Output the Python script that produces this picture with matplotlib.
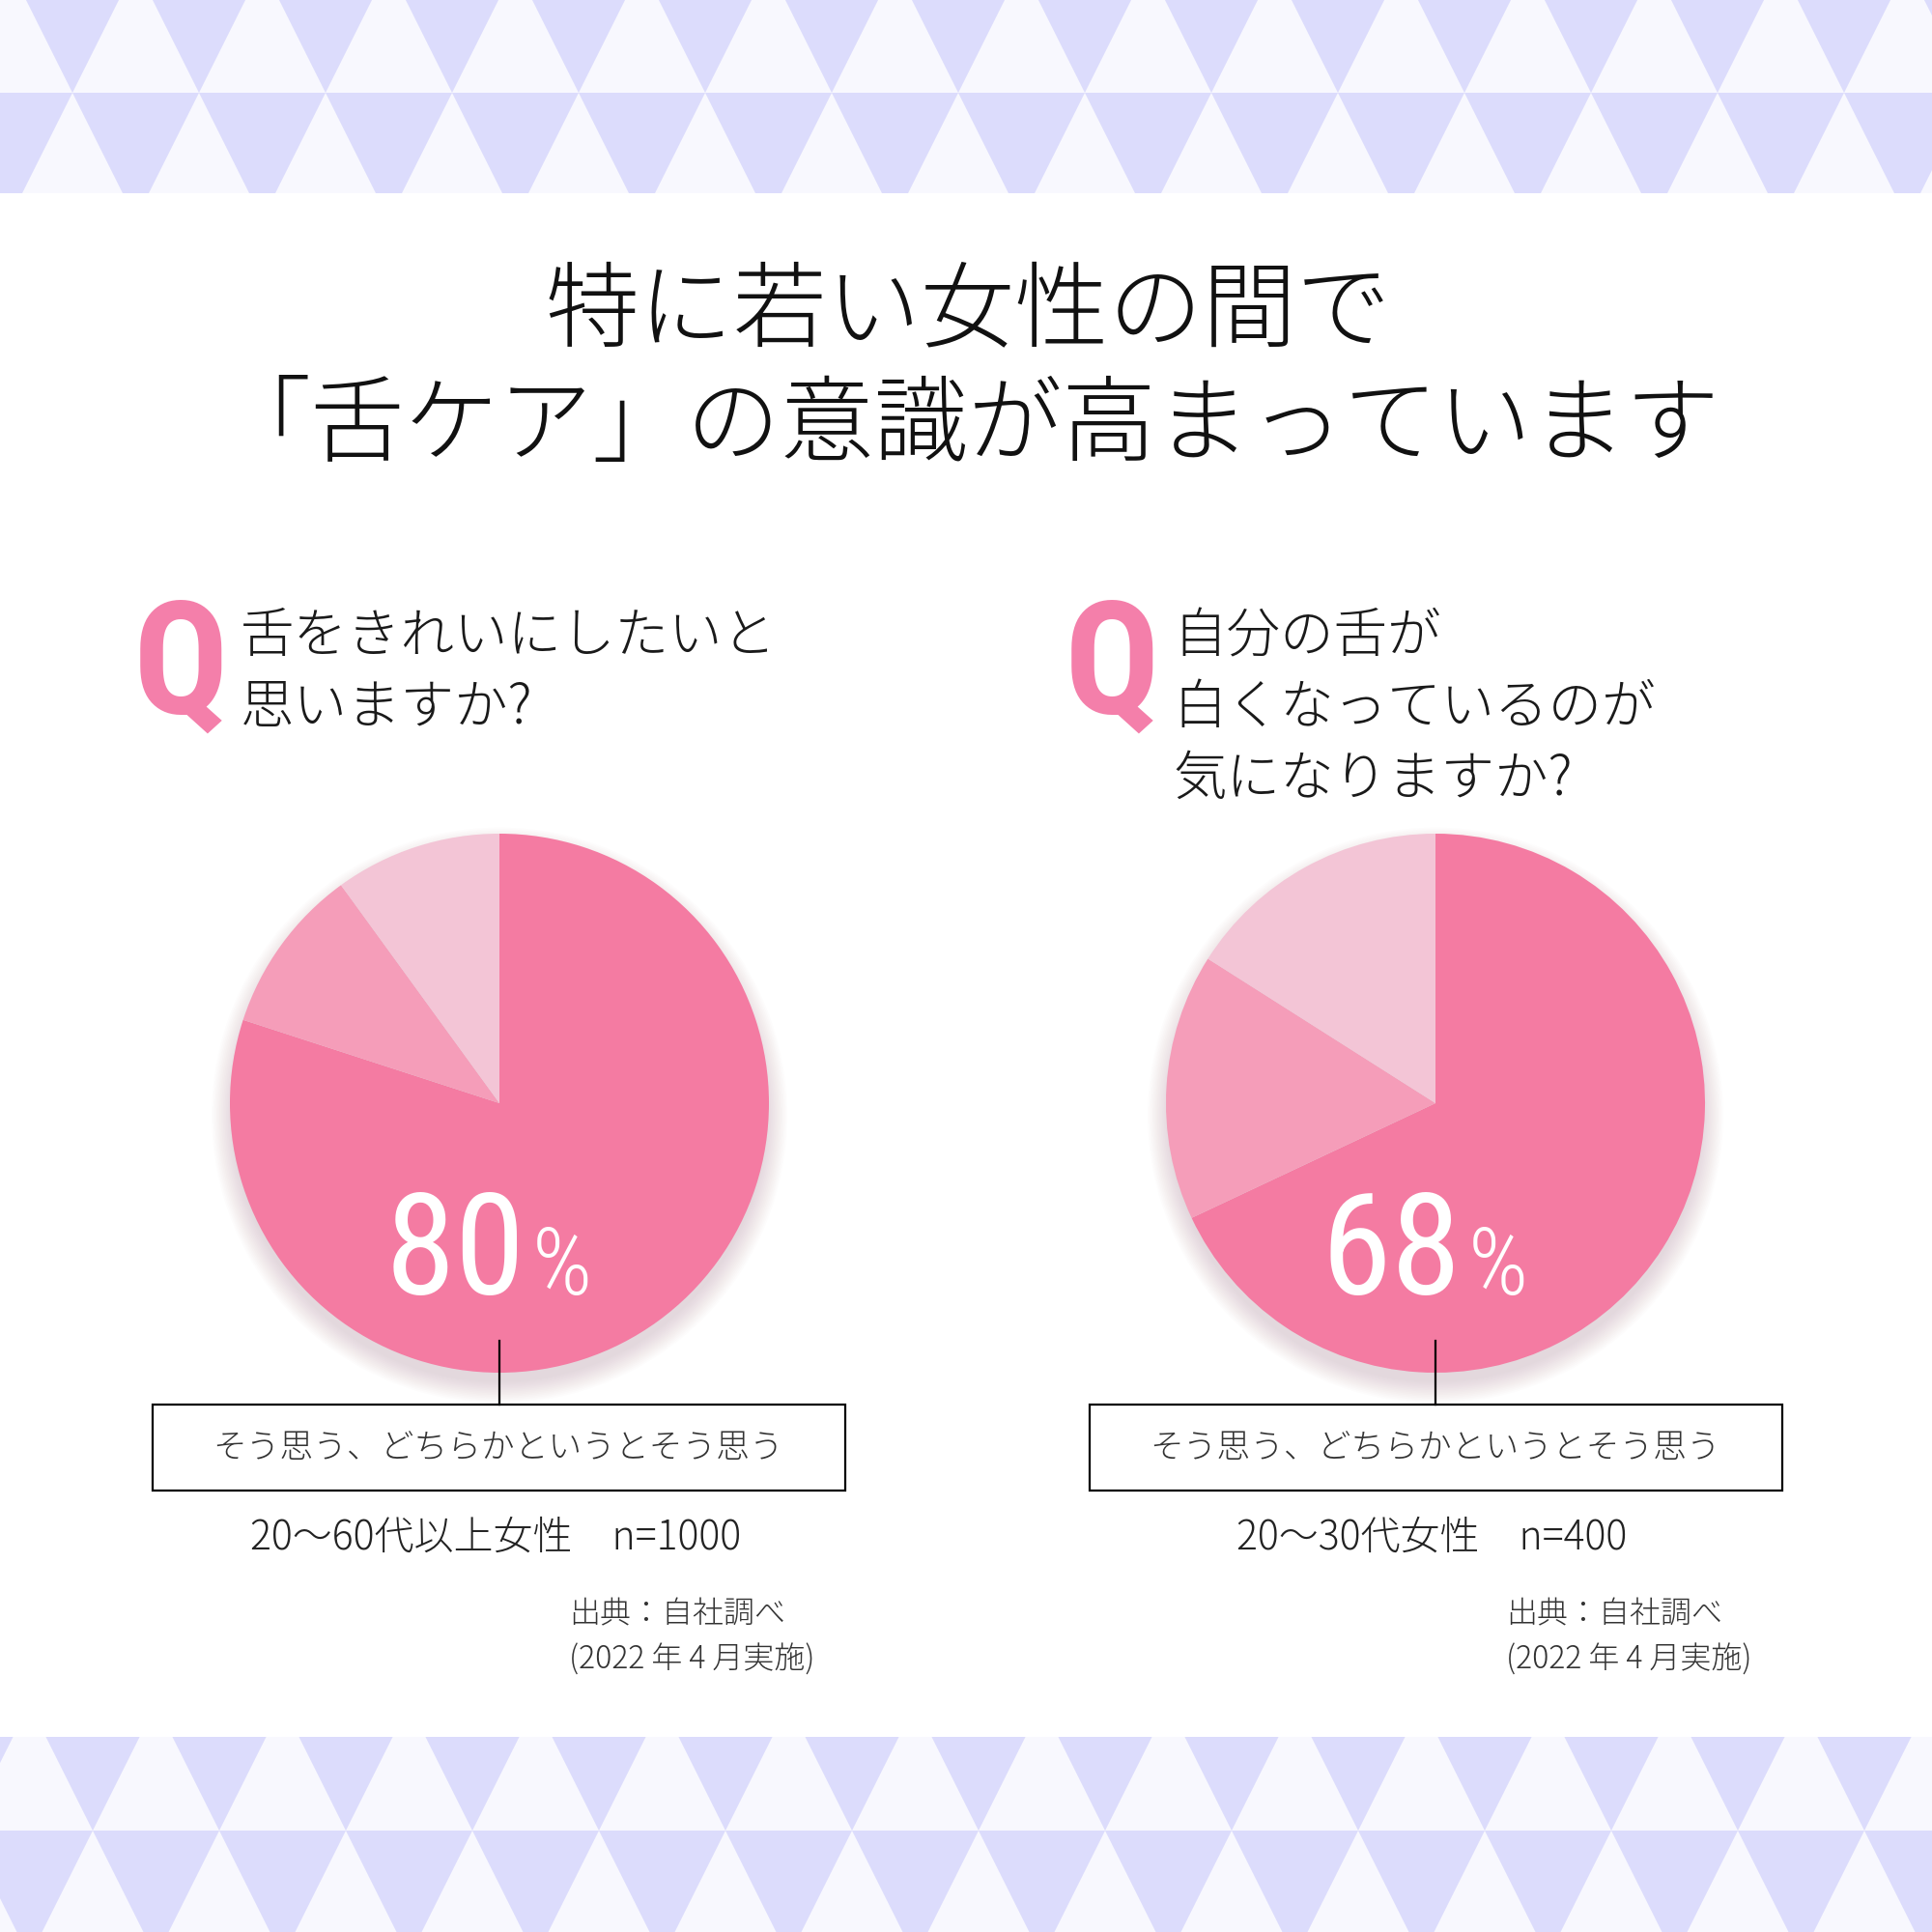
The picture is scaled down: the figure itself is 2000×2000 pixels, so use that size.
import matplotlib.pyplot as plt
from matplotlib.patches import Polygon, Circle, Rectangle

JP = ['Noto Sans CJK JP', 'DejaVu Sans']
NARROW = ['Roboto Condensed', 'Open Sans Condensed', 'Liberation Sans Narrow', 'DejaVu Sans']
plt.rcParams['font.family'] = JP

# ---- data ----
title_lines = ['特に若い女性の間で', '「舌ケア」の意識が高まっています']
questions = [['舌をきれいにしたいと', '思いますか?'],
             ['自分の舌が', '白くなっているのが', '気になりますか?']]
shares_left = [80, 10, 10]
shares_right = [68, 16, 16]
answer_label = 'そう思う、どちらかというとそう思う'
samples = ['20〜60代以上女性　n=1000', '20〜30代女性　n=400']
source_lines = ['出典：自社調べ', '(2022 年 4 月実施)']

PINKS = ['#F47BA2', '#F59DB9', '#F3C5D6']
Q_PINK = '#F47FAA'
LAV = '#DCDCFC'
LIGHT = '#F8F8FE'

W = H = 2000
fig = plt.figure(figsize=(20, 20), dpi=100)
ax = fig.add_axes([0, 0, 1, 1])
ax.set_xlim(0, W)
ax.set_ylim(H, 0)
ax.axis('off')


def tri_band(y_top, y_bot, y_mid, x0, tw=131):
    ax.add_patch(Rectangle((0, y_top), W, y_bot - y_top, color=LIGHT, lw=0))
    clip = Rectangle((0, y_top), W, y_bot - y_top, transform=ax.transData)
    k = -2
    while x0 + k * tw < W + tw:
        cx = x0 + k * tw
        up = Polygon([(cx - tw / 2, y_mid - tw), (cx + tw / 2, y_mid - tw), (cx, y_mid)],
                     color=LAV, lw=0)
        cx2 = cx + tw / 2
        dn = Polygon([(cx2 - tw / 2, y_mid), (cx2 + tw / 2, y_mid), (cx2, y_mid + tw)],
                     color=LAV, lw=0)
        for p in (up, dn):
            ax.add_patch(p)
            p.set_clip_path(clip)
        k += 1


tri_band(0, 200, 96, 75)
tri_band(1798, 2000, 1895, 96)

# title
for line, y in zip(title_lines, [324, 443]):
    ax.text(1002, y, line, ha='center', va='center', fontsize=70, color='#111111',
            fontweight='light')

# questions
for qx, tx, lines in [(187, 249, questions[0]), (1151, 1214, questions[1])]:
    ax.text(qx, 694, 'Q', ha='center', va='center', fontsize=118, color=Q_PINK,
            family=NARROW, fontstretch='condensed', fontweight='semibold')
    for i, line in enumerate(lines):
        ax.text(tx, 659 + i * 74, line, ha='left', va='center', fontsize=40, color='#1a1a1a',
                fontweight='light')

# pies
R = 279
PAD = 1.2
for cx, shares, sample, box_x, src_x in [(517, shares_left, samples[0], 158, 589),
                                         (1486, shares_right, samples[1], 1128, 1559)]:
    axp = fig.add_axes([(cx - R * PAD) / W, 1 - (1142 + R * PAD) / H,
                        2 * R * PAD / W, 2 * R * PAD / H])
    for i in range(14):
        axp.add_patch(Circle((0, -0.045), 0.99 + i * 0.006, color='#806070', alpha=0.015, lw=0))
    axp.pie(shares, colors=PINKS, startangle=90, counterclock=False, radius=1,
            wedgeprops=dict(linewidth=0))
    axp.set_xlim(-PAD, PAD)
    axp.set_ylim(-PAD, PAD)
    axp.set_aspect('equal')
    axp.axis('off')
    axp.text(0.095, -0.71, str(shares[0]), ha='right', va='baseline', fontsize=106,
             color='white', family=NARROW, fontstretch='condensed', fontweight='normal')
    axp.text(0.12, -0.71, '%', ha='left', va='baseline', fontsize=70,
             color='white', family=NARROW, fontstretch='condensed', fontweight='light')
    axp.plot([0, 0], [-0.88, -1.118], color='black', lw=1.6, clip_on=False)

    ax.add_patch(Rectangle((box_x, 1454), 717, 89, fill=False, ec='black', lw=1.6))
    ax.text(box_x + 358, 1500, answer_label, ha='center', va='center', fontsize=25,
            color='#333333', fontweight='light')
    ax.text(cx - 4, 1592, sample, ha='center', va='center', fontsize=29.5, color='#222222',
            fontweight='light')
    for j, line in enumerate(source_lines):
        ax.text(src_x, 1671 + j * 47, line, ha='left', va='center', fontsize=23,
                color='#333333', fontweight='light')

fig.savefig('out.png', dpi=100, facecolor='white')
